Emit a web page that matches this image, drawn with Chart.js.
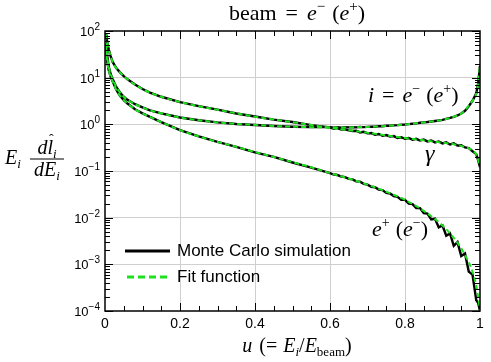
<!DOCTYPE html>
<html>
<head>
<meta charset="utf-8">
<script src="https://cdn.jsdelivr.net/npm/chart.js@4/dist/chart.umd.min.js"></script>
<style>
  html, body { margin: 0; padding: 0; background: #fff; }
  #wrap { width: 491px; height: 362px; }
</style>
</head>
<body>
<div id="wrap"><canvas id="myChart" width="491" height="362"></canvas></div>
<script>
// energy fraction u = E_i / E_beam
var uFit = [0.003, 0.006, 0.01, 0.015, 0.02, 0.03, 0.04, 0.05, 0.06, 0.08, 0.1, 0.12, 0.15, 0.2, 0.25, 0.3, 0.35, 0.4, 0.45, 0.5, 0.55, 0.6, 0.65, 0.7, 0.75, 0.8, 0.85, 0.9, 0.93, 0.95, 0.97, 0.98, 0.99, 0.995, 1.0];

// fit function values
var fitGamma = [85, 58, 40, 29, 22, 16, 13, 10.8, 9.2, 7.1, 5.7, 4.8, 3.9, 3.0, 2.45, 2.05, 1.72, 1.46, 1.27, 1.11, 0.97, 0.84, 0.75, 0.66, 0.58, 0.51, 0.455, 0.405, 0.375, 0.345, 0.305, 0.275, 0.225, 0.175, 0.12];
var fitElec = [55, 28, 17, 12, 9.5, 6.3, 4.8, 3.9, 3.35, 2.7, 2.3, 2.0, 1.72, 1.4, 1.22, 1.1, 1.02, 0.97, 0.92, 0.89, 0.87, 0.86, 0.86, 0.88, 0.92, 0.99, 1.1, 1.25, 1.45, 1.7, 2.5, 3.2, 4.6, 7.5, 18];
var fitPos = [45, 22, 14.5, 10.5, 8.5, 5.5, 4.1, 3.3, 2.8, 2.1, 1.72, 1.44, 1.12, 0.75, 0.55, 0.42, 0.33, 0.255, 0.2, 0.155, 0.12, 0.09, 0.069, 0.051, 0.036, 0.024, 0.014, 0.0068, 0.0037, 0.0022, 0.0011, 0.0007, 0.00035, 0.0002, 0.0001];

// monte carlo histogram (finer near the end)
var uMC = [0.003, 0.006, 0.01, 0.015, 0.02, 0.03, 0.04, 0.05, 0.06, 0.08, 0.1, 0.12, 0.15, 0.2, 0.25, 0.3, 0.35, 0.4, 0.45, 0.5, 0.55,
  0.6, 0.61, 0.62, 0.63, 0.64, 0.65, 0.66, 0.67, 0.68, 0.69, 0.7, 0.71, 0.72, 0.73, 0.74, 0.75, 0.76, 0.77, 0.78, 0.79,
  0.8, 0.81, 0.82, 0.83, 0.84, 0.85, 0.86, 0.87, 0.88, 0.89, 0.9, 0.91, 0.92, 0.93, 0.94, 0.95, 0.96, 0.97, 0.98, 0.99, 0.995, 1.0];
var mcGamma = [85, 58, 40, 29, 22, 16, 13, 10.8, 9.2, 7.1, 5.7, 4.8, 3.9, 3.0, 2.45, 2.06, 1.71, 1.47, 1.26, 1.12, 0.96,
  0.86, 0.80, 0.83, 0.77, 0.78, 0.74, 0.72, 0.73, 0.67, 0.69, 0.64, 0.65, 0.60, 0.62, 0.57, 0.59, 0.55, 0.56, 0.51, 0.53,
  0.49, 0.51, 0.47, 0.49, 0.45, 0.47, 0.43, 0.45, 0.41, 0.43, 0.39, 0.41, 0.37, 0.39, 0.35, 0.355, 0.32, 0.31, 0.265, 0.23, 0.17, 0.12];
var mcElec = [55, 28, 17, 12, 9.5, 6.3, 4.8, 3.9, 3.35, 2.7, 2.3, 2.0, 1.72, 1.4, 1.22, 1.1, 1.02, 0.97, 0.92, 0.89, 0.87,
  0.87, 0.85, 0.87, 0.85, 0.87, 0.86, 0.87, 0.86, 0.88, 0.87, 0.88, 0.89, 0.89, 0.91, 0.91, 0.93, 0.93, 0.95, 0.96, 0.98,
  0.99, 1.01, 1.03, 1.05, 1.08, 1.10, 1.12, 1.15, 1.18, 1.21, 1.25, 1.31, 1.37, 1.45, 1.55, 1.70, 1.95, 2.45, 3.2, 4.6, 7.5, 18];
var mcPos = [45, 22, 14.5, 10.5, 8.5, 5.5, 4.1, 3.3, 2.8, 2.1, 1.72, 1.44, 1.12, 0.75, 0.55, 0.42, 0.33, 0.25, 0.2, 0.152, 0.118,
  0.090, 0.084, 0.082, 0.076, 0.074, 0.068, 0.066, 0.060, 0.059, 0.053, 0.051, 0.046, 0.045, 0.040, 0.039, 0.034, 0.033, 0.029, 0.028, 0.024,
  0.024, 0.020, 0.0195, 0.016, 0.016, 0.0125, 0.0122, 0.0092, 0.0095, 0.0062, 0.0068, 0.0041, 0.0046, 0.0025, 0.0030, 0.0015, 0.0017, 0.0007, 0.0006, 0.00017, 0.00015, 0.0001];

var xTicks = [0, 0.2, 0.4, 0.6, 0.8, 1];
var yExp = [-4, -3, -2, -1, 0, 1, 2];

var GREEN = '#1ee11e';
var SERIF = '"Liberation Serif", "DejaVu Serif", serif';
var SANS = '"Liberation Sans", Arial, sans-serif';

function pts(xs, ys) {
  return xs.map(function (x, i) { return { x: x, y: ys[i] }; });
}

// draws a row of text pieces with different fonts / offsets
function rich(ctx, parts, x, y, align) {
  var w = 0;
  parts.forEach(function (p) {
    if (p.gap) { w += p.gap; return; }
    ctx.font = p.f;
    w += ctx.measureText(p.t).width;
  });
  var cx = align === 'center' ? x - w / 2 : x;
  ctx.textBaseline = 'alphabetic';
  ctx.textAlign = 'left';
  parts.forEach(function (p) {
    if (p.gap) { cx += p.gap; return; }
    ctx.font = p.f;
    ctx.fillText(p.t, cx, y + (p.dy || 0));
    cx += ctx.measureText(p.t).width;
  });
  return w;
}

var extras = {
  id: 'extras',
  afterDatasetsDraw: function (chart) {
    var ctx = chart.ctx;
    var a = chart.chartArea;
    var xs = chart.scales.x, ys = chart.scales.y;
    ctx.save();
    ctx.fillStyle = '#000';
    ctx.strokeStyle = '#000';

    // tick marks, inward
    ctx.lineWidth = 1;
    ctx.beginPath();
    for (var k = 1; k < 20; k++) {
      var px = Math.round(xs.getPixelForValue(k * 0.05)) + 0.5;
      var len = (k % 4 === 0) ? 8 : 5;
      ctx.moveTo(px, a.bottom); ctx.lineTo(px, a.bottom - len);
      ctx.moveTo(px, a.top); ctx.lineTo(px, a.top + len);
    }
    for (var e = -4; e <= 2; e++) {
      for (var m = 1; m <= 9; m++) {
        var v = m * Math.pow(10, e);
        if (v > 100 || (e === 2 && m > 1)) continue;
        var py = Math.round(ys.getPixelForValue(v)) + 0.5;
        var l2 = m === 1 ? 8 : 5;
        ctx.moveTo(a.left, py); ctx.lineTo(a.left + l2, py);
        ctx.moveTo(a.right, py); ctx.lineTo(a.right - l2, py);
      }
    }
    ctx.stroke();

    // frame
    ctx.lineWidth = 1.5;
    ctx.strokeRect(a.left, a.top, a.right - a.left, a.bottom - a.top);

    // y tick labels 10^n
    yExp.forEach(function (n) {
      var y = ys.getPixelForValue(Math.pow(10, n));
      var ex = n < 0 ? '\u2212' + (-n) : String(n);
      ctx.font = '10px ' + SANS;
      var we = ctx.measureText(ex).width;
      ctx.font = '13px ' + SANS;
      var wb = ctx.measureText('10').width;
      ctx.textAlign = 'left';
      ctx.textBaseline = 'alphabetic';
      ctx.fillText('10', 100 - we - wb, y + 5);
      ctx.font = '10px ' + SANS;
      ctx.fillText(ex, 100 - we, y - 1);
    });

    // title
    var R = '22px ' + SERIF, I = 'italic 22px ' + SERIF, S = '15px ' + SERIF;
    rich(ctx, [
      { t: 'beam', f: R }, { gap: 9 }, { t: '=', f: R }, { gap: 9 },
      { t: 'e', f: I }, { t: '\u2212', f: S, dy: -9 }, { gap: 7 },
      { t: '(', f: R }, { t: 'e', f: I }, { t: '+', f: S, dy: -9 }, { t: ')', f: R }
    ], 297, 20, 'center');

    // curve labels
    var R2 = '22px ' + SERIF, I2 = 'italic 22px ' + SERIF, S2 = '14px ' + SERIF;
    rich(ctx, [
      { t: 'i', f: I2 }, { gap: 8 }, { t: '=', f: R2 }, { gap: 8 },
      { t: 'e', f: I2 }, { t: '\u2212', f: S2, dy: -9 }, { gap: 6 },
      { t: '(', f: R2 }, { t: 'e', f: I2 }, { t: '+', f: S2, dy: -9 }, { t: ')', f: R2 }
    ], 368, 102, 'left');
    rich(ctx, [{ t: '\u03b3', f: 'italic 24px ' + SERIF }], 425, 161, 'left');
    rich(ctx, [
      { t: 'e', f: I2 }, { t: '+', f: S2, dy: -9 }, { gap: 6 },
      { t: '(', f: R2 }, { t: 'e', f: I2 }, { t: '\u2212', f: S2, dy: -9 }, { t: ')', f: R2 }
    ], 372, 236, 'left');

    // x axis title
    var R3 = '20px ' + SERIF, I3 = 'italic 20px ' + SERIF, s3 = '13px ' + SERIF, si3 = 'italic 13px ' + SERIF;
    rich(ctx, [
      { t: 'u', f: I3 }, { gap: 7 }, { t: '(=', f: R3 }, { gap: 6 },
      { t: 'E', f: I3 }, { t: 'i', f: si3, dy: 4 }, { t: '/', f: R3 },
      { t: 'E', f: I3 }, { t: 'beam', f: s3, dy: 4 }, { t: ')', f: R3 }
    ], 297, 352, 'center');

    // y axis title  E_i dl^_i / dE_i
    var I4 = 'italic 20px ' + SERIF, si4 = 'italic 13px ' + SERIF;
    rich(ctx, [{ t: 'E', f: I4 }, { t: 'i', f: si4, dy: 4 }], 5, 164, 'left');
    var wn = rich(ctx, [{ t: 'd', f: I4 }, { t: 'l', f: I4 }, { t: 'i', f: si4, dy: 4 }], 47, 154, 'center');
    ctx.font = I4;
    var wd = ctx.measureText('d').width;
    ctx.font = '14px ' + SERIF;
    ctx.textAlign = 'center';
    ctx.fillText('\u02c6', 47 - wn / 2 + wd + 4, 144);
    ctx.fillRect(30, 158.5, 34, 1);
    rich(ctx, [{ t: 'd', f: I4 }, { t: 'E', f: I4 }, { t: 'i', f: si4, dy: 4 }], 47, 176, 'center');

    // legend
    ctx.lineWidth = 3;
    ctx.beginPath();
    ctx.moveTo(125, 251); ctx.lineTo(170, 251);
    ctx.stroke();
    ctx.strokeStyle = GREEN;
    ctx.setLineDash([7, 4]);
    ctx.beginPath();
    ctx.moveTo(127, 277); ctx.lineTo(170, 277);
    ctx.stroke();
    ctx.setLineDash([]);
    ctx.font = '17px ' + SANS;
    ctx.textAlign = 'left';
    ctx.textBaseline = 'middle';
    ctx.fillText('Monte Carlo simulation', 177, 251);
    ctx.fillText('Fit function', 177, 277);

    ctx.restore();
  }
};

function mcSet(label, ys) {
  return { label: label, data: pts(uMC, ys), borderColor: '#000', borderWidth: 2.4,
    pointRadius: 0, tension: 0, order: 1 };
}
function fitSet(label, ys) {
  return { label: label, data: pts(uFit, ys), borderColor: GREEN, borderWidth: 2,
    borderDash: [5, 3], pointRadius: 0, cubicInterpolationMode: 'monotone', order: 0 };
}

const ctx = document.getElementById('myChart').getContext('2d');
const myChart = new Chart(ctx, {
  type: 'line',
  data: {
    datasets: [
      fitSet('Fit function', fitGamma),
      fitSet('Fit function', fitElec),
      fitSet('Fit function', fitPos),
      mcSet('Monte Carlo simulation', mcGamma),
      mcSet('Monte Carlo simulation', mcElec),
      mcSet('Monte Carlo simulation', mcPos)
    ]
  },
  options: {
    responsive: false,
    animation: false,
    devicePixelRatio: 1,
    layout: { padding: { left: 0, right: 11, top: 31, bottom: 0 } },
    plugins: { legend: { display: false }, tooltip: { enabled: false }, title: { display: false } },
    scales: {
      x: {
        type: 'linear', min: 0, max: 1,
        afterFit: function (s) { s.height = 51; },
        afterBuildTicks: function (s) { s.ticks = xTicks.map(function (v) { return { value: v }; }); },
        border: { display: false },
        grid: {
          drawTicks: false,
          color: function (c) { return (c.tick && (c.tick.value === 0 || c.tick.value === 1)) ? 'rgba(0,0,0,0)' : '#cfcfcf'; }
        },
        ticks: {
          padding: 5, color: '#000', font: { family: SANS, size: 14 }, maxRotation: 0,
          callback: function (v) { return v === 0 ? '0' : v === 1 ? '1' : v.toFixed(1); }
        }
      },
      y: {
        type: 'logarithmic', min: 1e-4, max: 100,
        afterFit: function (s) { s.width = 105; },
        afterBuildTicks: function (s) { s.ticks = yExp.map(function (n) { return { value: Math.pow(10, n) }; }); },
        border: { display: false },
        grid: {
          drawTicks: false,
          color: function (c) {
            var v = c.tick ? c.tick.value : 0;
            return (v <= 1e-4 * 1.001 || v >= 99.9) ? 'rgba(0,0,0,0)' : '#cfcfcf';
          }
        },
        ticks: { display: false }
      }
    }
  },
  plugins: [extras]
});
</script>
</body>
</html>
